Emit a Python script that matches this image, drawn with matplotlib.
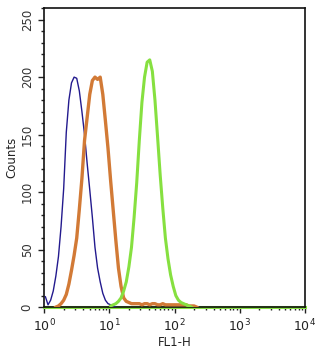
"""Flow cytometry histogram overlay (FL1-H)."""

import numpy as np
import matplotlib
matplotlib.use("Agg")
import matplotlib.pyplot as plt
from matplotlib.ticker import LogLocator, MultipleLocator, NullFormatter

# bin width in decades (log10 units)
BIN = 0.04

# blue (isotype / control) histogram, first bin starts at log10 = 0.00
blue_start = 0.00
blue_counts = [9, 2, 6, 14, 27, 44, 70, 103, 152, 180, 195, 200, 199, 188,
               170, 150, 125, 102, 78, 52, 34, 22, 12, 6, 3, 2, 1, 0]

# orange histogram, first bin starts at log10 = 0.16
orange_start = 0.16
orange_counts = [0, 1, 3, 6, 11, 20, 32, 45, 60, 85, 112, 145, 165, 185,
                 197, 200, 198, 200, 185, 162, 138, 110, 84, 58, 34, 18, 8, 5,
                 4, 3, 3, 3, 3, 2, 3, 3, 2, 3, 3, 2, 2, 3, 2, 2, 2, 2, 2, 2,
                 2, 2, 2, 1, 1, 1, 0]

# green (antibody) histogram, first bin starts at log10 = 1.00
green_start = 1.00
green_counts = [1, 2, 3, 5, 8, 14, 22, 35, 52, 78, 108, 145, 178, 200, 213,
                215, 205, 180, 148, 115, 86, 60, 42, 28, 18, 10, 6, 4, 3, 2,
                1, 0]

y_ticks = [0, 50, 100, 150, 200, 250]

BLUE = "#231a8e"
ORANGE = "#d27a36"
GREEN = "#86e040"


def centers(start, counts):
    return 10 ** (start + BIN * (np.arange(len(counts)) + 0.5))


fig = plt.figure(figsize=(3.22, 3.53), dpi=100)
ax = fig.add_axes([0.137, 0.130, 0.810, 0.847])
plt.rcParams["font.family"] = ["Liberation Sans", "DejaVu Sans"]

# green baseline along zero across the whole range
ax.plot([1, 1e4], [0, 0], color=GREEN, lw=2.2, zorder=2, clip_on=False)

ax.plot(centers(blue_start, blue_counts), blue_counts, color=BLUE, lw=1.0, zorder=3)
ax.plot(centers(orange_start, orange_counts), orange_counts, color=ORANGE, lw=2.4, zorder=4)
ax.plot(centers(green_start, green_counts), green_counts, color=GREEN, lw=2.2, zorder=5)

ax.set_xscale("log")
ax.set_xlim(1, 1e4)
ax.set_ylim(0, 260)

ax.xaxis.set_major_locator(LogLocator(base=10, numticks=10))
ax.xaxis.set_minor_locator(LogLocator(base=10, subs=np.arange(2, 10), numticks=20))
ax.xaxis.set_minor_formatter(NullFormatter())
ax.set_yticks(y_ticks)
ax.yaxis.set_minor_locator(MultipleLocator(10))

ax.tick_params(axis="both", which="major", direction="out", length=4, width=1,
               colors="#222222", labelsize=9)
ax.tick_params(axis="both", which="minor", direction="out", length=2.5, width=1,
               colors="#222222")
ax.tick_params(axis="y", labelrotation=90, labelsize=8.5, labelcolor="#333333")
for lab in ax.get_yticklabels():
    lab.set_verticalalignment("center")

for sp in ax.spines.values():
    sp.set_linewidth(1.2)
    sp.set_color("#111111")

ax.set_xlabel("FL1-H", fontsize=8.5, labelpad=1, color="#222222")
ax.set_ylabel("Counts", fontsize=8.5, labelpad=2, color="#222222")

fig.savefig("out.png", dpi=100)
